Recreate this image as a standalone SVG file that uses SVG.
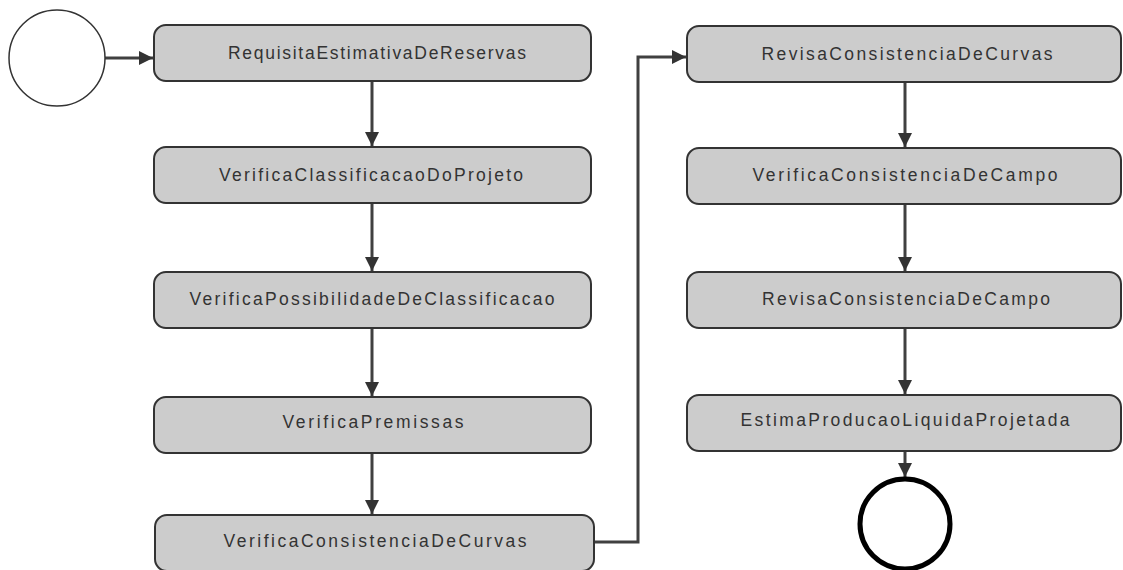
<svg xmlns="http://www.w3.org/2000/svg" width="1123" height="570" viewBox="0 0 1123 570">
<style>
.box{fill:#cccccc;stroke:#333333;stroke-width:2}
.lbl{font-family:"Liberation Sans",Arial,sans-serif;font-size:17.5px;fill:#333333;text-anchor:middle;dominant-baseline:central}
.edge{fill:none;stroke:#404040;stroke-width:3}
</style>
<defs>
<marker id="ah" viewBox="0 0 14 14" refX="14" refY="7" markerWidth="14" markerHeight="14" markerUnits="userSpaceOnUse" orient="auto">
<path d="M0,0 L14,7 L0,14 Z" fill="#333333"/>
</marker>
</defs>
<rect width="1123" height="570" fill="#ffffff"/>
<g id="connectors">
<path class="edge" d="M105,58 L153,58" marker-end="url(#ah)"/>
<path class="edge" d="M372,81 L372,146" marker-end="url(#ah)"/>
<path class="edge" d="M372,203 L372,271" marker-end="url(#ah)"/>
<path class="edge" d="M372,328 L372,396" marker-end="url(#ah)"/>
<path class="edge" d="M372,453 L372,514" marker-end="url(#ah)"/>
<path class="edge" d="M595,542 L638,542 L638,57 L686,57" marker-end="url(#ah)"/>
<path class="edge" d="M905,82 L905,147" marker-end="url(#ah)"/>
<path class="edge" d="M905,204 L905,271" marker-end="url(#ah)"/>
<path class="edge" d="M905,328 L905,394" marker-end="url(#ah)"/>
<path class="edge" d="M905,451 L905,477" marker-end="url(#ah)"/>
</g>
<g id="start"><circle cx="57" cy="58" r="48" fill="#ffffff" stroke="#333333" stroke-width="1.5"/></g>
<g id="n1"><rect class="box" x="154" y="25" width="437" height="56" rx="12"/><text class="lbl" x="377" y="53" textLength="298" lengthAdjust="spacing">RequisitaEstimativaDeReservas</text></g>
<g id="n2"><rect class="box" x="154" y="147" width="437" height="56" rx="12"/><text class="lbl" x="371" y="175" textLength="304" lengthAdjust="spacing">VerificaClassificacaoDoProjeto</text></g>
<g id="n3"><rect class="box" x="154" y="272" width="437" height="56" rx="12"/><text class="lbl" x="372" y="299" textLength="365" lengthAdjust="spacing">VerificaPossibilidadeDeClassificacao</text></g>
<g id="n4"><rect class="box" x="154" y="397" width="437" height="56" rx="12"/><text class="lbl" x="373" y="422" textLength="181" lengthAdjust="spacing">VerificaPremissas</text></g>
<g id="n5"><rect class="box" x="155" y="515" width="439" height="56" rx="12"/><text class="lbl" x="375" y="541" textLength="303" lengthAdjust="spacing">VerificaConsistenciaDeCurvas</text></g>
<g id="n6"><rect class="box" x="687" y="26" width="434" height="56" rx="12"/><text class="lbl" x="907" y="54" textLength="291" lengthAdjust="spacing">RevisaConsistenciaDeCurvas</text></g>
<g id="n7"><rect class="box" x="687" y="148" width="434" height="56" rx="12"/><text class="lbl" x="905" y="175" textLength="305" lengthAdjust="spacing">VerificaConsistenciaDeCampo</text></g>
<g id="n8"><rect class="box" x="687" y="272" width="434" height="56" rx="12"/><text class="lbl" x="906" y="299" textLength="288" lengthAdjust="spacing">RevisaConsistenciaDeCampo</text></g>
<g id="n9"><rect class="box" x="687" y="395" width="434" height="56" rx="12"/><text class="lbl" x="905" y="420" textLength="329" lengthAdjust="spacing">EstimaProducaoLiquidaProjetada</text></g>
<g id="end"><circle cx="905" cy="524" r="45" fill="#ffffff" stroke="#000000" stroke-width="5"/></g>
</svg>
